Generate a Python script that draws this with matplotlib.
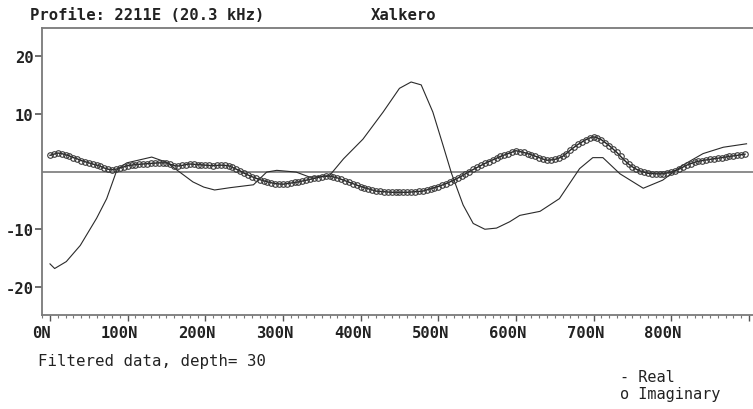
import matplotlib
matplotlib.use("Agg")
import matplotlib.pyplot as plt
import matplotlib.transforms as mtransforms
from matplotlib.ticker import MultipleLocator, FixedLocator, FixedFormatter

# ---- data ----
real_x = [0, 6, 21, 39, 60, 73, 86, 93, 99, 115, 131, 150, 167, 184, 198, 212, 232, 262,
          279, 292, 317, 335, 360, 378, 403, 429, 450, 465, 478, 493, 506, 517, 532,
          545, 560, 575, 592, 605, 631, 656, 682, 699, 712, 734, 764, 789, 815, 841,
          867, 897]
real_y = [-16.0, -16.8, -15.6, -12.8, -8.1, -4.7, 0.2, 1.0, 1.5, 2.0, 2.5, 1.6, -0.1,
          -1.8, -2.7, -3.2, -2.8, -2.3, -0.1, 0.2, -0.1, -1.0, -0.7, 2.2, 5.6, 10.3,
          14.4, 15.5, 15.0, 10.3, 4.6, -0.3, -5.8, -9.0, -10.0, -9.8, -8.7, -7.6,
          -6.9, -4.7, 0.5, 2.4, 2.4, -0.4, -2.9, -1.5, 1.1, 3.1, 4.2, 4.8]

imag_x = list(range(0, 900, 5))
imag_y = [2.8, 3.0, 3.2, 3.1, 2.9, 2.7, 2.4, 2.2, 1.9, 1.7,
          1.5, 1.3, 1.1, 0.9, 0.6, 0.4, 0.3, 0.4, 0.6, 0.8,
          1.0, 1.1, 1.2, 1.25, 1.3, 1.35, 1.4, 1.45, 1.5, 1.5,
          1.5, 1.25, 1.0, 0.95, 1.05, 1.2, 1.3, 1.25, 1.2, 1.15,
          1.1, 1.05, 1.0, 1.05, 1.1, 1.05, 1.0, 0.7, 0.4, 0.1,
          -0.3, -0.6, -0.9, -1.15, -1.4, -1.6, -1.8, -1.95, -2.1, -2.15,
          -2.2, -2.1, -2.0, -1.9, -1.8, -1.65, -1.5, -1.35, -1.2, -1.05,
          -0.9, -0.85, -0.8, -0.95, -1.1, -1.35, -1.6, -1.85, -2.1, -2.35,
          -2.6, -2.8, -3.0, -3.2, -3.4, -3.45, -3.5, -3.55, -3.6, -3.6,
          -3.6, -3.6, -3.6, -3.55, -3.5, -3.45, -3.4, -3.2, -3.0, -2.8,
          -2.6, -2.35, -2.1, -1.8, -1.5, -1.15, -0.8, -0.4, 0.0, 0.35,
          0.7, 1.05, 1.4, 1.7, 2.0, 2.3, 2.6, 2.85, 3.1, 3.35,
          3.6, 3.45, 3.3, 3.1, 2.9, 2.65, 2.4, 2.15, 1.95, 2.0,
          2.1, 2.3, 2.6, 3.1, 3.7, 4.2, 4.7, 5.1, 5.5, 5.8,
          6.0, 5.8, 5.5, 5.0, 4.5, 3.9, 3.3, 2.6, 1.9, 1.3,
          0.8, 0.4, 0.1, -0.1, -0.3, -0.35, -0.4, -0.4, -0.4, -0.25,
          -0.1, 0.15, 0.4, 0.75, 1.1, 1.35, 1.6, 1.75, 1.9, 2.0,
          2.1, 2.2, 2.3, 2.4, 2.5, 2.6, 2.7, 2.8, 2.9, 3.0]

x_ticks = [0, 100, 200, 300, 400, 500, 600, 700, 800, 900]
x_labels = ["0N", "100N", "200N", "300N", "400N", "500N", "600N", "700N", "800N", ""]
y_ticks = [-20, -10, 10, 20]
y_labels = ["-20", "-10", "10", "20"]

title_left = "Profile: 2211E (20.3 kHz)"
title_mid = "Xalkero"
note = "Filtered data, depth= 30"
legend_lines = ["- Real", "o Imaginary"]

# ---- figure ----
fig = plt.figure(figsize=(7.53, 4.10), dpi=100)
ax = fig.add_axes([42 / 753, 94 / 410, 1 - 42 / 753 + 0.01, 287 / 410])

mono = "DejaVu Sans Mono"
ax.axhline(0, color="#8c8c8c", lw=1.4, zorder=1)
ax.plot(real_x, real_y, color="#2a2a2a", lw=0.8, zorder=3)
ax.plot(imag_x, imag_y, color="#222222", lw=1.0, marker="o", ms=4.0,
        mfc="none", mec="#3a3a3a", mew=0.8, zorder=4)

ax.set_xlim(-10.3, 915)
ax.set_ylim(-24.85, 24.85)

for side in ["left", "top", "bottom"]:
    ax.spines[side].set_color("#7a7a7a")
    ax.spines[side].set_linewidth(1.3)
ax.spines["right"].set_visible(False)

ax.xaxis.set_major_locator(FixedLocator(x_ticks))
ax.xaxis.set_major_formatter(FixedFormatter(x_labels))
ax.xaxis.set_minor_locator(MultipleLocator(10))
ax.yaxis.set_major_locator(FixedLocator(y_ticks))
ax.yaxis.set_major_formatter(FixedFormatter(y_labels))

ax.tick_params(axis="x", which="major", direction="out", length=4, width=1,
               color="#555555", pad=3, labelsize=11.2)
ax.tick_params(axis="x", which="minor", direction="out", length=2, width=0.8,
               color="#777777")
ax.tick_params(axis="y", which="major", direction="out", length=5, width=1.2,
               color="#555555", pad=1, labelsize=11.2)
shift = mtransforms.ScaledTranslation(-8 / 100, 0, fig.dpi_scale_trans)
for lab in ax.get_xticklabels():
    lab.set_transform(lab.get_transform() + shift)
for lab in ax.get_xticklabels() + ax.get_yticklabels():
    lab.set_fontfamily(mono)
    lab.set_fontweight("bold")
    lab.set_color("#222222")

fig.text(30 / 753, 1 - 15 / 410, title_left, family=mono, weight="bold",
         fontsize=11.2, va="center", ha="left", color="#222222")
fig.text(404 / 753, 1 - 15 / 410, title_mid, family=mono, weight="bold",
         fontsize=11.2, va="center", ha="center", color="#222222")
fig.text(38 / 753, 1 - 362 / 410, note, family=mono, fontsize=11.3,
         va="center", ha="left", color="#222222")
fig.text(620 / 753, 1 - 378 / 410, legend_lines[0], family=mono, fontsize=11,
         va="center", ha="left", color="#222222")
fig.text(620 / 753, 1 - 395 / 410, legend_lines[1], family=mono, fontsize=11,
         va="center", ha="left", color="#222222")

fig.savefig("out.png", dpi=100)
